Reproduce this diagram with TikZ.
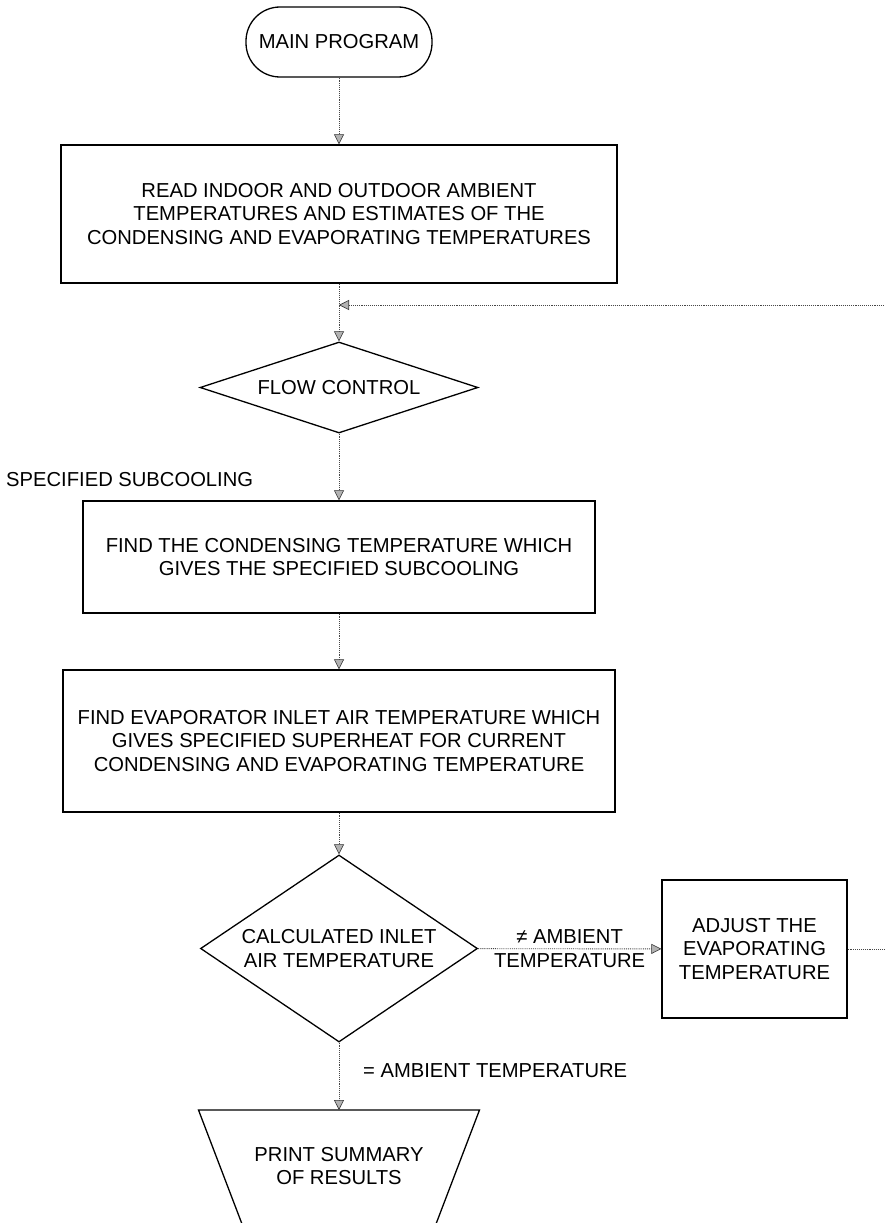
\documentclass[tikz,border=0pt]{standalone}
\usepackage{fontspec}
\setmainfont{Liberation Sans}
\usetikzlibrary{shapes.geometric,arrows.meta}
\begin{document}
\begin{tikzpicture}[x=1pt,y=-1pt,
  every node/.style={font=\fontsize{20.2}{23.5}\selectfont, inner sep=0pt, align=center},
  shapeline/.style={draw=black, line width=1.3pt},
  procbox/.style={shapeline, rectangle},
  decision/.style={shapeline, diamond},
  terminal/.style={shapeline, rectangle, rounded corners=34pt},
  conn/.style={draw=gray!55!black, line width=0.9pt, densely dotted,
    -{Triangle[length=10pt,width=10pt,fill=gray!60,color=gray!40!black,line width=0.6pt]}}
]
\useasboundingbox (0,0) rectangle (884,1223);
\fill[white] (0,0) rectangle (884,1223);

\node[terminal, minimum width=186pt, minimum height=70pt] (main) at (339,42) {MAIN PROGRAM};

\node[procbox, minimum width=556pt, minimum height=138pt] (read) at (339,214)
  {READ INDOOR AND OUTDOOR AMBIENT\\TEMPERATURES AND ESTIMATES OF THE\\CONDENSING AND EVAPORATING TEMPERATURES};

\node[decision, aspect=3.05, minimum width=278pt, minimum height=91pt] (flow) at (339,387.5) {FLOW CONTROL};

\node[anchor=base west] (spec) at (6,486) {SPECIFIED SUBCOOLING};

\node[procbox, minimum width=512pt, minimum height=112pt] (cond) at (339,557)
  {FIND THE CONDENSING TEMPERATURE WHICH\\GIVES THE SPECIFIED SUBCOOLING};

\node[procbox, minimum width=552pt, minimum height=142pt] (evap) at (339,741)
  {FIND EVAPORATOR INLET AIR TEMPERATURE WHICH\\GIVES SPECIFIED SUPERHEAT FOR CURRENT\\CONDENSING AND EVAPORATING TEMPERATURE};

\node[decision, aspect=1.48, minimum width=277pt, minimum height=187pt] (calc) at (339,948.5)
  {CALCULATED INLET\\AIR TEMPERATURE};

\node[procbox, minimum width=185pt, minimum height=138pt] (adjust) at (754.5,949)
  {ADJUST THE\\EVAPORATING\\TEMPERATURE};

% output (print) trapezoid, wide side on top, cut by the lower edge of the picture
\coordinate (ptl) at (198.5,1110);
\coordinate (ptr) at (479.5,1110);
\coordinate (pbr) at (433.7,1230);
\coordinate (pbl) at (244.3,1230);
\coordinate (printtop) at (339,1110);
\draw[shapeline, line join=miter] (ptl) -- (ptr) -- (pbr) -- (pbl) -- cycle;
\node (print) at (339,1166) {PRINT SUMMARY\\OF RESULTS};

\node[anchor=base west] (eq) at (363,1077) {= AMBIENT TEMPERATURE};

\coordinate (fb) at (339,305);

\draw[conn] (main) -- (read);
\draw[conn] (read) -- (flow);
\draw[conn] (adjust.east) -- ++(60,0) |- (fb);
\draw[conn] (flow) -- (cond);
\draw[conn] (cond) -- (evap);
\draw[conn] (evap) -- (calc);
\draw[conn] (calc) -- (adjust) node[midway] (ne) {≠ AMBIENT\\TEMPERATURE};
\draw[conn] (calc) -- (printtop);
\end{tikzpicture}
\end{document}
